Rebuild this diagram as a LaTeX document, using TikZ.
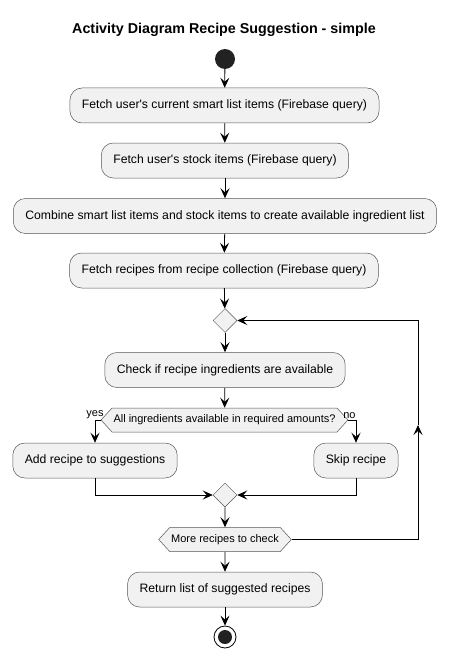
\documentclass[tikz,border=0pt]{standalone}
\usepackage{fontspec}
\setmainfont{Liberation Sans}
\usetikzlibrary{arrows.meta,shapes.geometric,shapes.symbols}
\definecolor{actfill}{HTML}{F1F1F1}
\definecolor{actline}{HTML}{555555}
\definecolor{dotfill}{HTML}{222222}

\begin{document}
\begin{tikzpicture}[x=1pt,y=-1pt,>={Stealth[length=10pt,width=9pt,inset=4pt]},
  font=\fontsize{12.2}{14}\selectfont,
  act/.style={rectangle,rounded corners=12pt,draw=actline,line width=0.5pt,fill=actfill,
    minimum height=35pt,inner xsep=12pt},
  merge/.style={diamond,draw=actline,line width=0.5pt,fill=actfill,aspect=1,
    minimum size=24pt,inner sep=0pt},
  cond/.style={signal,signal to=west and east,signal pointer angle=95,draw=actline,
    line width=0.5pt,fill=actfill,minimum height=24pt,inner xsep=1.5pt,
    font=\fontsize{11}{13}\selectfont},
  flow/.style={->,line width=0.8pt,black},
  lbl/.style={font=\fontsize{11}{13}\selectfont,inner sep=1pt}]
\useasboundingbox (0,0) rectangle (449,658);
\node[font=\bfseries\fontsize{14.3}{16}\selectfont] (title) at (224,30) {Activity Diagram Recipe Suggestion - simple};
\node[circle,fill=dotfill,minimum size=20pt,inner sep=0pt] (start) at (225,59) {};
\node[act] (fetchsl) at (224.5,105.5) {Fetch user\textquotesingle s current smart list items (Firebase query)};
\node[act] (fetchst) at (225,160.5) {Fetch user\textquotesingle s stock items (Firebase query)};
\node[act] (combine) at (225,216) {Combine smart list items and stock items to create available ingredient list};
\node[act] (fetchrc) at (224,270.5) {Fetch recipes from recipe collection (Firebase query)};
\node[merge] (loop) at (225,320.5) {};
\node[act] (check) at (225,370) {Check if recipe ingredients are available};
\node[cond] (avail) at (224.5,420) {All ingredients available in required amounts?};
\node[act] (add) at (95,460.5) {Add recipe to suggestions};
\node[act] (skip) at (356,460.5) {Skip recipe};
\node[merge] (join) at (225,495) {};
\node[cond] (more) at (225,539.5) {More recipes to check};
\node[act] (ret) at (225,589.5) {Return list of suggested recipes};
\node[circle,draw=black,line width=0.8pt,fill=white,minimum size=22pt,inner sep=0pt] (stop) at (225,637) {};
\node[circle,fill=dotfill,minimum size=14pt,inner sep=0pt] (stopdot) at (stop) {};
\coordinate (back) at (418,425);
% main flow
\draw[flow] (start) -- (fetchsl);
\draw[flow] (fetchsl) -- (fetchst);
\draw[flow] (fetchst) -- (combine);
\draw[flow] (combine) -- (fetchrc);
\draw[flow] (fetchrc) -- (loop);
\draw[flow] (loop) -- (check);
\draw[flow] (check) -- (avail);
% branches
\draw[flow] (avail.west) -| node[lbl,pos=0.5,anchor=south]{yes} (add.north);
\draw[flow] (avail.east) -| node[lbl,pos=0.5,anchor=south east,xshift=1pt]{no} (skip.north);
\draw[flow] (add.south) |- (join.west);
\draw[flow] (skip.south) |- (join.east);
\draw[flow] (join) -- (more);
% repeat loop
\draw[flow] (more.east) -| (back);
\draw[flow] (back) |- (loop.east);
\draw[flow] (more) -- (ret);
\draw[flow] (ret) -- (stop);
\end{tikzpicture}
\end{document}
